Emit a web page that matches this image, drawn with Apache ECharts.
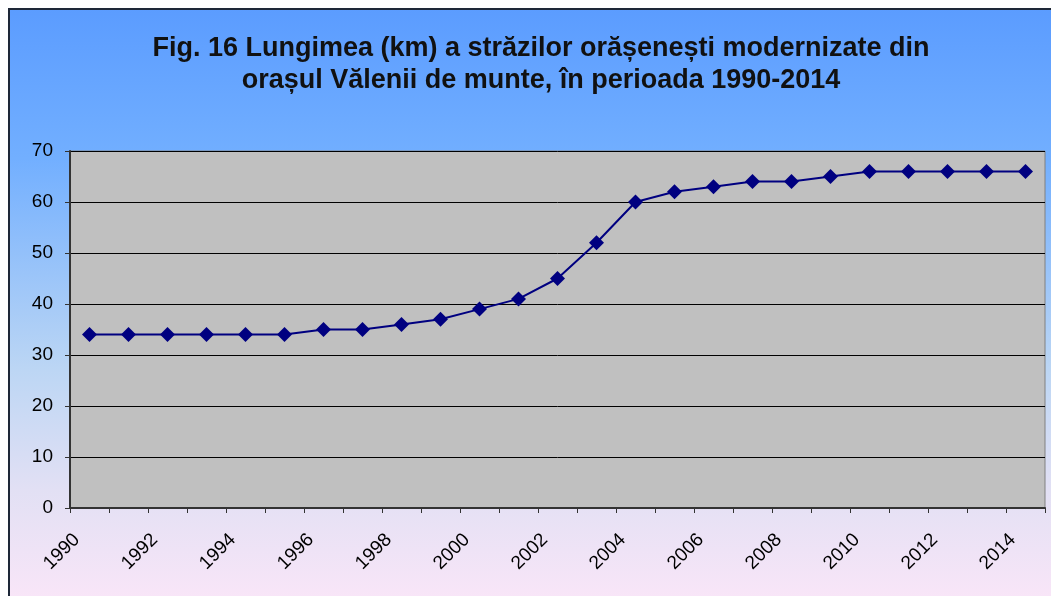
<!DOCTYPE html>
<html>
<head>
<meta charset="utf-8">
<script src="https://cdn.jsdelivr.net/npm/echarts@6/dist/echarts.min.js"></script>
<style>
  html, body { margin: 0; padding: 0; background: #fff; }
  #chart { width: 1051px; height: 596px; }
</style>
</head>
<body>
<div id="chart"></div>
<script>
// ani 1990-2014
var years = ['1990', '1991', '1992', '1993', '1994', '1995', '1996', '1997', '1998', '1999',
    '2000', '2001', '2002', '2003', '2004', '2005', '2006', '2007', '2008', '2009',
    '2010', '2011', '2012', '2013', '2014'];
// lungimea strazilor modernizate (km)
var lungime = [34, 34, 34, 34, 34, 34, 35, 35, 36, 37,
    39, 41, 45, 52, 60, 62, 63, 64, 64, 65,
    66, 66, 66, 66, 66];
var yTicks = { min: 0, max: 70, interval: 10 };

var chart = echarts.init(document.getElementById('chart'));
var fontFam = '"Liberation Sans", Arial, sans-serif';

chart.setOption({
    backgroundColor: '#ffffff',
    animation: false,
    graphic: [{
        type: 'rect',
        z: -10,
        silent: true,
        shape: { x: 9, y: 9, width: 1060, height: 600 },
        style: {
            fill: new echarts.graphic.LinearGradient(0, 0, 0, 1, [
                { offset: 0, color: '#5b9cff' },
                { offset: 0.25, color: '#72afff' },
                { offset: 0.6, color: '#bcd6f4' },
                { offset: 0.8, color: '#e2e0f4' },
                { offset: 1, color: '#fbe6f8' }
            ]),
            stroke: '#1e2838',
            lineWidth: 2
        }
    }],
    title: {
        text: 'Fig. 16 Lungimea (km) a străzilor orășenești modernizate din\norașul Vălenii de munte, în perioada 1990-2014',
        left: 536,
        textAlign: 'center',
        top: 28,
        textStyle: {
            fontFamily: fontFam,
            fontWeight: 'bold',
            fontSize: 27,
            lineHeight: 32,
            color: '#111'
        }
    },
    grid: {
        left: 70,
        right: 6,
        top: 151,
        bottom: 88,
        show: true,
        backgroundColor: '#c0c0c0',
        borderColor: '#808080',
        borderWidth: 1
    },
    xAxis: {
        type: 'category',
        data: years,
        boundaryGap: true,
        axisLine: { lineStyle: { color: '#333', width: 2 } },
        axisTick: { show: true, interval: 0, length: 5, lineStyle: { color: '#333', width: 1 } },
        axisLabel: {
            interval: 1,
            rotate: 45,
            margin: 16,
            padding: [0, 18, 0, 0],
            fontFamily: fontFam,
            fontSize: 19,
            color: '#000'
        },
        splitLine: { show: false }
    },
    yAxis: {
        type: 'value',
        min: yTicks.min,
        max: yTicks.max,
        interval: yTicks.interval,
        axisLine: { show: true, lineStyle: { color: '#333', width: 2 } },
        axisTick: { show: true, length: 5, lineStyle: { color: '#333', width: 1 } },
        axisLabel: {
            margin: 17,
            fontFamily: fontFam,
            fontSize: 19,
            color: '#000'
        },
        splitLine: { show: true, lineStyle: { color: '#000', width: 1 } }
    },
    series: [{
        type: 'line',
        data: lungime,
        symbol: 'diamond',
        symbolSize: 15,
        itemStyle: { color: '#000080' },
        lineStyle: { color: '#000080', width: 2 }
    }]
});
</script>
</body>
</html>
